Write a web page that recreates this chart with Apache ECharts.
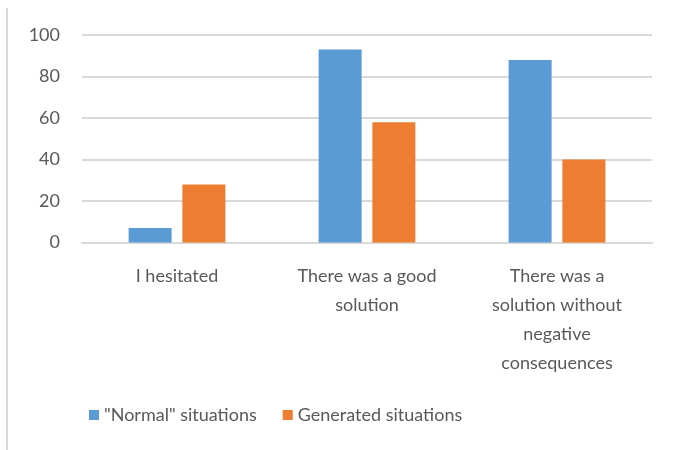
<!DOCTYPE html>
<html><head><meta charset="utf-8">
<script src="https://cdn.jsdelivr.net/npm/echarts@6/dist/echarts.min.js"></script>
<style>html,body{margin:0;padding:0;background:#fff}#c{width:675px;height:450px}</style>
</head><body><div id="c"></div>
<script>
var categories = ["I hesitated", "There was a good\nsolution", "There was a\nsolution without\nnegative\nconsequences"];
var normalValues = [7, 93, 88];
var generatedValues = [28, 58, 40];
var seriesNames = ['"Normal" situations', 'Generated situations'];
var yTicks = { min: 0, max: 100, interval: 20 };

var FONT = 'Lato';
var chart = echarts.init(document.getElementById('c'), null, { renderer: 'canvas' });
chart.setOption({
  animation: false,
  backgroundColor: '#ffffff',
  textStyle: { fontFamily: FONT },
  graphic: [{
    type: 'line', shape: { x1: 7, y1: 8, x2: 7, y2: 450 },
    style: { stroke: '#d9d9d9', lineWidth: 2 }, silent: true
  }],
  grid: { left: 82, right: 23, top: 35, bottom: 207.5 },
  legend: {
    bottom: 21, left: 84, itemWidth: 10, itemHeight: 10, itemGap: 26,
    icon: 'rect',
    textStyle: { fontFamily: FONT, fontSize: 18, color: '#595959' },
    data: seriesNames
  },
  xAxis: {
    type: 'category', data: categories,
    axisLine: { show: true, lineStyle: { color: '#d9d9d9', width: 2 } },
    axisTick: { show: false },
    axisLabel: { interval: 0, margin: 19, fontFamily: FONT, fontSize: 18, color: '#595959', lineHeight: 29, align: 'center' }
  },
  yAxis: {
    type: 'value', min: yTicks.min, max: yTicks.max, interval: yTicks.interval,
    axisLine: { show: false }, axisTick: { show: false },
    splitLine: { lineStyle: { color: '#d9d9d9', width: 2 } },
    axisLabel: { margin: 22, fontFamily: FONT, fontSize: 18, color: '#595959' }
  },
  series: [
    { name: seriesNames[0], type: 'bar', data: normalValues, barWidth: 43, barGap: '25%', itemStyle: { color: '#5b9bd5' } },
    { name: seriesNames[1], type: 'bar', data: generatedValues, barWidth: 43, barGap: '25%', itemStyle: { color: '#ed7d31' } }
  ]
});
</script></body></html>
